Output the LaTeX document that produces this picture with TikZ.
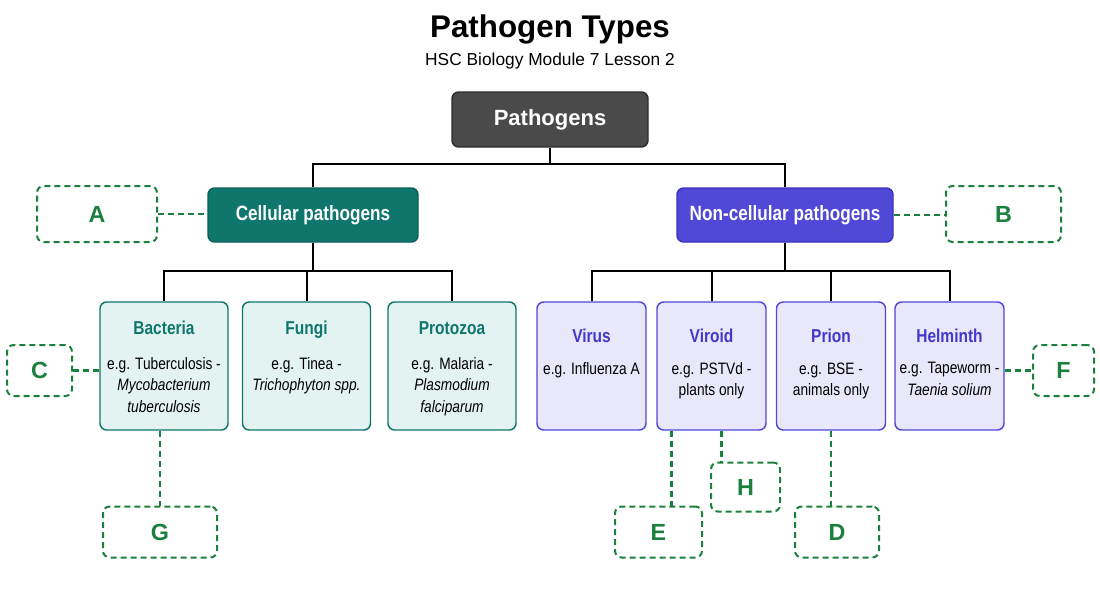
\documentclass[tikz,border=0pt]{standalone}
\usepackage{fontspec}
\setmainfont{Liberation Sans}
\newfontfamily\condfont[FakeStretch=0.83]{Liberation Sans}
\usetikzlibrary{positioning,calc}
\definecolor{Charcoal}{HTML}{4A4A4A}
\definecolor{CharcoalDark}{HTML}{2E2E2E}
\definecolor{Teal}{HTML}{0F766E}
\definecolor{TealDark}{HTML}{0B5F58}
\definecolor{SoftTeal}{HTML}{E3F3F1}
\definecolor{Indigo}{HTML}{5048D6}
\definecolor{IndigoDark}{HTML}{3B33B8}
\definecolor{IndigoText}{HTML}{4338CA}
\definecolor{SoftIndigo}{HTML}{E9E8FB}
\definecolor{Quiz}{HTML}{1B7F3E}
\tikzset{
 block/.style={rounded corners=5pt, line width=1.1pt, inner sep=0pt, align=center},
 rootblock/.style={block, draw=CharcoalDark, fill=Charcoal, text=white, minimum width=147pt, minimum height=41.25pt, font=\fontsize{16.5}{19}\selectfont\bfseries},
 tealhead/.style={block, draw=TealDark, fill=Teal, text=white, minimum width=157.5pt, minimum height=40.5pt, font=\condfont\fontsize{15.5}{18}\selectfont\bfseries},
 indigohead/.style={block, draw=IndigoDark, fill=Indigo, text=white, minimum width=162pt, minimum height=40.5pt, font=\condfont\fontsize{15.5}{18}\selectfont\bfseries},
 tealcard/.style={block, draw=Teal, fill=SoftTeal, minimum width=96pt, minimum height=96pt},
 indigocard/.style={block, draw=Indigo, fill=SoftIndigo, minimum width=81.75pt, minimum height=96pt},
 ctitle/.style={inner sep=0pt, anchor=base, text=Teal, font=\condfont\fontsize{14}{16}\selectfont\bfseries},
 ntitle/.style={inner sep=0pt, anchor=base, text=IndigoText, font=\condfont\fontsize{14}{16}\selectfont\bfseries},
 bodytext/.style={inner sep=0pt, anchor=north, align=center, font=\condfont\fontsize{12.4}{16}\selectfont},
 quizbox/.style={draw=Quiz, dashed, dash pattern=on 4.5pt off 3pt, line width=1.5pt, rounded corners=5pt, text=Quiz, font=\fontsize{17.5}{20}\selectfont\bfseries, minimum height=38.25pt},
 link/.style={line width=1.5pt, draw=black},
 dashlink/.style={draw=Quiz, line width=1.6pt, dash pattern=on 4.5pt off 3pt}
}
\begin{document}
\begin{tikzpicture}[x=0.75pt,y=-0.75pt]
\useasboundingbox (0,0) rectangle (1100,604);
\node (title) [anchor=base, font=\fontsize{23.5}{27}\selectfont\bfseries] at (550,37) {Pathogen Types};
\node (subtitle) [anchor=base, font=\fontsize{13}{15}\selectfont] at (550,65) {HSC Biology Module 7 Lesson 2};

\node (pathogens) [rootblock] at (550,119.5) {Pathogens};
\node (cellular) [tealhead] at (313,215) {Cellular pathogens};
\node (noncell) [indigohead] at (785,215) {Non-cellular pathogens};

% cellular children
\node (bacteria) [tealcard] at (164,366) {};
\node (fungi) [tealcard] at (306.5,366) {};
\node (protozoa) [tealcard] at (452,366) {};
\node (bacteria-t) [ctitle] at ($(bacteria.north)+(0,33)$) {Bacteria};
\node (bacteria-b) [bodytext] at ($(bacteria.north)+(0,56)$) {e.g. Tuberculosis -\\\textit{Mycobacterium}\\\textit{tuberculosis}};
\node (fungi-t) [ctitle] at ($(fungi.north)+(0,33)$) {Fungi};
\node (fungi-b) [bodytext] at ($(fungi.north)+(0,56)$) {e.g. Tinea -\\\textit{Trichophyton spp.}};
\node (protozoa-t) [ctitle] at ($(protozoa.north)+(0,33)$) {Protozoa};
\node (protozoa-b) [bodytext] at ($(protozoa.north)+(0,56)$) {e.g. Malaria -\\\textit{Plasmodium}\\\textit{falciparum}};

% non-cellular children
\node (virus) [indigocard] at (591.5,366) {};
\node (viroid) [indigocard] at (711.5,366) {};
\node (prion) [indigocard] at (831,366) {};
\node (helminth) [indigocard] at (949.5,366) {};
\node (virus-t) [ntitle] at ($(virus.north)+(0,41)$) {Virus};
\node (virus-b) [bodytext] at ($(virus.north)+(0,61)$) {e.g. Influenza A};
\node (viroid-t) [ntitle] at ($(viroid.north)+(0,41)$) {Viroid};
\node (viroid-b) [bodytext] at ($(viroid.north)+(0,61)$) {e.g. PSTVd -\\plants only};
\node (prion-t) [ntitle] at ($(prion.north)+(0,41)$) {Prion};
\node (prion-b) [bodytext] at ($(prion.north)+(0,61)$) {e.g. BSE -\\animals only};
\node (helminth-t) [ntitle] at ($(helminth.north)+(0,41)$) {Helminth};
\node (helminth-b) [bodytext] at ($(helminth.north)+(0,61)$) {e.g. Tapeworm -\\\textit{Taenia solium}};

% labels to fill in
\node (labA) [quizbox, minimum width=90pt, minimum height=42pt] at (97,214) {A};
\node (labB) [quizbox, minimum width=86.25pt, minimum height=42pt] at (1003.5,214) {B};
\node (labC) [quizbox, minimum width=48.75pt] at (39.5,370.5) {C};
\node (labF) [quizbox, minimum width=45.75pt] at (1063.5,370.5) {F};
\node (labG) [quizbox, minimum width=85.5pt] at (160,532) {G};
\node (labE) [quizbox, minimum width=65.25pt] at (658.5,532) {E};
\node (labH) [quizbox, minimum width=51.75pt, minimum height=36.75pt] at (745.5,487) {H};
\node (labD) [quizbox, minimum width=63pt] at (837,532) {D};

\draw[link] (pathogens.south) -- ++(0,16) -| (cellular.north);
\draw[link] (pathogens.south) -- ++(0,16) -| (noncell.north);
\foreach \c in {bacteria,fungi,protozoa}
  \draw[link] (cellular.south) -- ++(0,28) -| (\c.north);
\foreach \c in {virus,viroid,prion,helminth}
  \draw[link] (noncell.south) -- ++(0,28) -| (\c.north);

\draw[dashlink] (labA.east) -- (labA.east -| cellular.west);
\draw[dashlink] (noncell.east) -- (noncell.east -| labB.west);
\draw[dashlink] (labC.east) -- (labC.east -| bacteria.west);
\draw[dashlink] (labF.west -| helminth.east) -- (labF.west);
\draw[dashlink] (labG.north |- bacteria.south) -- (labG.north);
\draw[dashlink] ([xshift=-30pt]viroid.south) -- ([xshift=-30pt]viroid.south |- labE.north);
\draw[dashlink] ([xshift=7.5pt]viroid.south) -- ([xshift=7.5pt]viroid.south |- labH.north);
\draw[dashlink] (prion.south) -- (prion.south |- labD.north);
\end{tikzpicture}
\end{document}
